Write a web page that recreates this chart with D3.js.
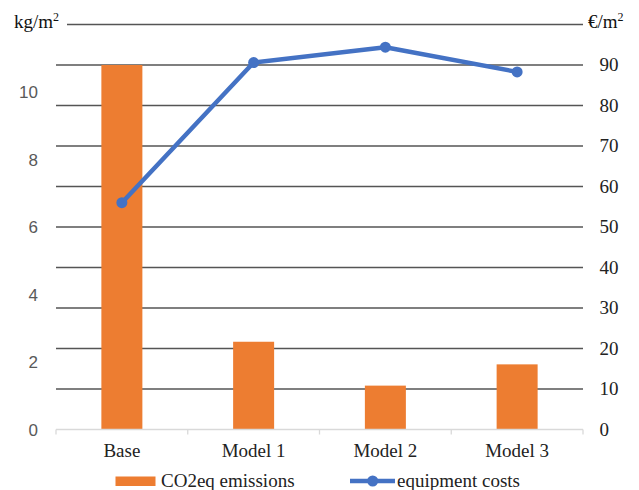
<!DOCTYPE html>
<html>
<head>
<meta charset="utf-8">
<script src="https://cdn.jsdelivr.net/npm/d3@7"></script>
<style>
  html, body { margin: 0; padding: 0; background: #fff; }
  svg { display: block; }
</style>
</head>
<body>
<svg id="chart" width="639" height="490"></svg>
<script>
// Categories and series
const categories = ["Base", "Model 1", "Model 2", "Model 3"];
const emissions = [10.8, 2.6, 1.3, 1.93];      // kg/m², bars, left axis
const equipmentCosts = [56, 90.6, 94.4, 88.3]; // €/m², line, right axis
const leftTicks = [0, 2, 4, 6, 8, 10];
const rightTicks = [0, 10, 20, 30, 40, 50, 60, 70, 80, 90];

const svg = d3.select("#chart");
const plotLeft = 56, plotRight = 583, plotTop = 24.5, plotBottom = 429.5;
const serif = "'Liberation Serif', 'Times New Roman', serif";
const sans = "'Liberation Sans', Arial, sans-serif";

const x = d3.scaleBand().domain(categories).range([plotLeft, plotRight]).paddingInner(0).paddingOuter(0);
const yL = d3.scaleLinear().domain([0, 12]).range([plotBottom, plotTop]);
const yR = d3.scaleLinear().domain([0, 100]).range([plotBottom, plotTop]);

// Horizontal gridlines follow the right axis
svg.append("g").selectAll("line")
  .data(rightTicks.filter(d => d > 0).concat([100]))
  .join("line")
  .attr("x1", d => d === 100 ? 67 : plotLeft)
  .attr("x2", plotRight)
  .attr("y1", d => yR(d)).attr("y2", d => yR(d))
  .attr("stroke", "#555").attr("stroke-width", 1.3);

// Bars
const barW = 41;
svg.append("g").selectAll("rect")
  .data(categories)
  .join("rect")
  .attr("x", (d) => x(d) + x.bandwidth() / 2 - barW / 2)
  .attr("width", barW)
  .attr("y", (d, i) => yL(emissions[i]))
  .attr("height", (d, i) => plotBottom - yL(emissions[i]))
  .attr("fill", "#ed7d31");

// Category axis
const xAxis = svg.append("g");
xAxis.append("line")
  .attr("x1", plotLeft).attr("x2", plotRight).attr("y1", plotBottom).attr("y2", plotBottom)
  .attr("stroke", "#d9d9d9").attr("stroke-width", 1.3);
const boundaries = categories.map(d => x(d)).concat([plotRight]);
xAxis.selectAll("line.tick").data(boundaries).join("line")
  .attr("class", "tick")
  .attr("x1", d => d).attr("x2", d => d)
  .attr("y1", plotBottom).attr("y2", plotBottom + 5)
  .attr("stroke", "#d9d9d9").attr("stroke-width", 1.3);
xAxis.selectAll("text").data(categories).join("text")
  .attr("x", d => x(d) + x.bandwidth() / 2)
  .attr("y", 456.5)
  .attr("text-anchor", "middle")
  .attr("font-family", serif).attr("font-size", 19)
  .attr("fill", "#222")
  .text(d => d);

// Left axis labels
svg.append("g").selectAll("text").data(leftTicks).join("text")
  .attr("x", 38).attr("y", d => yL(d))
  .attr("dy", "0.36em")
  .attr("text-anchor", "end")
  .attr("font-family", sans).attr("font-size", 17)
  .attr("fill", "#595959")
  .text(d => d);

// Right axis labels
svg.append("g").selectAll("text").data(rightTicks).join("text")
  .attr("x", 599.5).attr("y", d => yR(d))
  .attr("dy", "0.34em")
  .attr("text-anchor", "start")
  .attr("font-family", serif).attr("font-size", 19)
  .attr("fill", "#222")
  .text(d => d);

// Unit labels
const unitL = svg.append("text")
  .attr("x", 14).attr("y", 28)
  .attr("font-family", serif).attr("font-size", 19).attr("fill", "#111");
unitL.append("tspan").text("kg/m");
unitL.append("tspan").attr("font-size", 12).attr("dy", -7).text("2");

const unitR = svg.append("text")
  .attr("x", 588).attr("y", 28)
  .attr("font-family", serif).attr("font-size", 19).attr("fill", "#111");
unitR.append("tspan").text("€/m");
unitR.append("tspan").attr("font-size", 12).attr("dy", -7).text("2");

// Equipment cost line
const line = d3.line()
  .x((d, i) => x(categories[i]) + x.bandwidth() / 2)
  .y(d => yR(d));
svg.append("path")
  .datum(equipmentCosts)
  .attr("d", line)
  .attr("fill", "none")
  .attr("stroke", "#4472c4")
  .attr("stroke-width", 4.5)
  .attr("stroke-linejoin", "round");
svg.append("g").selectAll("circle").data(equipmentCosts).join("circle")
  .attr("cx", (d, i) => x(categories[i]) + x.bandwidth() / 2)
  .attr("cy", d => yR(d))
  .attr("r", 5.5)
  .attr("fill", "#4472c4");

// Legend
const legend = svg.append("g");
legend.append("rect")
  .attr("x", 115.5).attr("y", 476.5).attr("width", 40).attr("height", 9.5)
  .attr("fill", "#ed7d31");
legend.append("text")
  .attr("x", 161).attr("y", 487)
  .attr("font-family", serif).attr("font-size", 19).attr("fill", "#222")
  .text("CO2eq emissions");
legend.append("line")
  .attr("x1", 350).attr("x2", 395).attr("y1", 481).attr("y2", 481)
  .attr("stroke", "#4472c4").attr("stroke-width", 4.5);
legend.append("circle")
  .attr("cx", 372.7).attr("cy", 481).attr("r", 5.5).attr("fill", "#4472c4");
legend.append("text")
  .attr("x", 397).attr("y", 487)
  .attr("font-family", serif).attr("font-size", 19).attr("fill", "#222")
  .text("equipment costs");
</script>
</body>
</html>
